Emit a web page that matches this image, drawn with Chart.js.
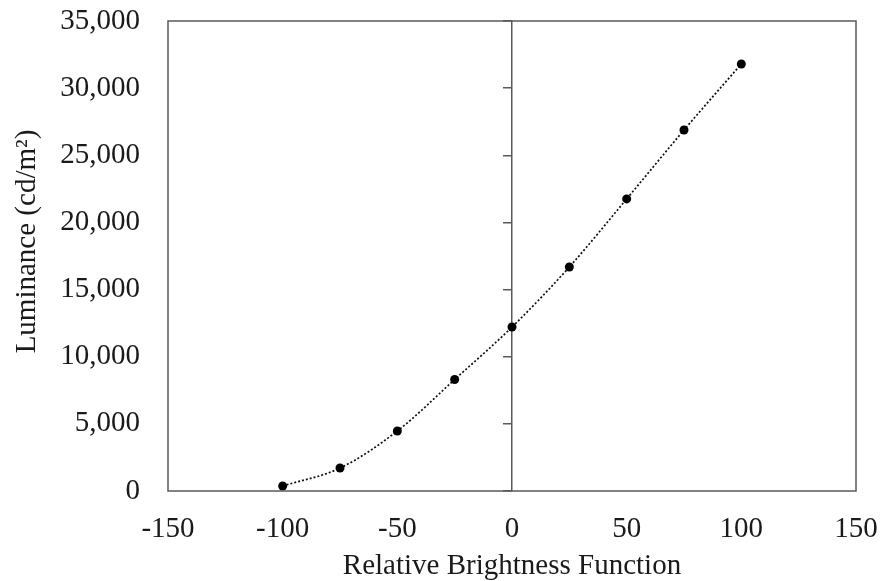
<!DOCTYPE html>
<html>
<head>
<meta charset="utf-8">
<script src="https://cdn.jsdelivr.net/npm/chart.js@4"></script>
<style>
  html, body { margin: 0; padding: 0; background: #fff; }
  #wrap { width: 881px; height: 581px; }
</style>
</head>
<body>
<div id="wrap"><canvas id="chart"></canvas></div>
<script>
// values
const brightness = [-100, -75, -50, -25, 0, 25, 50, 75, 100];
const luminance = [370, 1710, 4470, 8300, 12210, 16680, 21750, 26880, 31800];
const xTicks = [-150, -100, -50, 0, 50, 100, 150];
const yTicks = [0, 5000, 10000, 15000, 20000, 25000, 30000, 35000];

const axisColor = '#595959';
const textColor = '#1a1a1a';
const serif = "'Liberation Serif', 'Times New Roman', serif";
const fontSize = 29;

// frame round the plot area
const frame = {
    id: 'frame',
    afterDraw(chart) {
        const a = chart.chartArea;
        const ctx = chart.ctx;
        ctx.save();
        ctx.strokeStyle = axisColor;
        ctx.lineWidth = 1.5;
        ctx.strokeRect(a.left, a.top, a.right - a.left, a.bottom - a.top);
        ctx.restore();
    }
};

const points = brightness.map((b, i) => ({ x: b, y: luminance[i] }));

const ctx = document.getElementById('chart').getContext('2d');
new Chart(ctx, {
    type: 'scatter',
    data: {
        datasets: [{
            data: points,
            showLine: true,
            borderColor: '#111',
            borderWidth: 1.7,
            borderDash: [2, 2],
            cubicInterpolationMode: 'monotone',
            pointRadius: 4.5,
            pointBackgroundColor: '#000',
            pointBorderColor: '#000',
            pointBorderWidth: 0,
            xAxisID: 'x',
            yAxisID: 'y'
        }]
    },
    options: {
        responsive: true,
        maintainAspectRatio: false,
        animation: false,
        layout: { padding: { top: 21, right: 25, bottom: 0, left: 0 } },
        plugins: { legend: { display: false }, tooltip: { enabled: false } },
        scales: {
            x: {
                type: 'linear',
                min: -150,
                max: 150,
                afterBuildTicks: (s) => { s.ticks = xTicks.map(v => ({ value: v })); },
                afterFit: (s) => { s.height = 90; s.paddingLeft = 0; s.paddingRight = 0; },
                grid: { display: false },
                border: { display: false },
                ticks: {
                    color: textColor,
                    font: { family: serif, size: fontSize },
                    padding: 13,
                    maxRotation: 0
                },
                title: {
                    display: true,
                    text: 'Relative Brightness Function',
                    color: textColor,
                    font: { family: serif, size: fontSize, lineHeight: 1 },
                    padding: { top: 0, bottom: 0 }
                }
            },
            y: {
                type: 'linear',
                min: 0,
                max: 35000,
                afterBuildTicks: (s) => { s.ticks = yTicks.map(v => ({ value: v })); },
                afterFit: (s) => { s.width = 168; s.paddingTop = 0; s.paddingBottom = 0; },
                grid: { display: false, drawTicks: false },
                border: { display: false },
                ticks: {
                    color: textColor,
                    font: { family: serif, size: fontSize },
                    padding: 28,
                    callback: (v) => v.toLocaleString('en-US')
                },
                title: {
                    display: true,
                    text: '    Luminance (cd/m²)',
                    color: textColor,
                    font: { family: serif, size: fontSize },
                    padding: { top: 10, bottom: 0 }
                }
            },
            y2: {
                type: 'linear',
                position: { x: 0 },
                min: 0,
                max: 35000,
                afterBuildTicks: (s) => { s.ticks = yTicks.map(v => ({ value: v })); },
                afterFit: (s) => { s.paddingTop = 0; s.paddingBottom = 0; },
                grid: {
                    drawOnChartArea: false,
                    drawTicks: true,
                    tickLength: 8,
                    color: axisColor,
                    lineWidth: 1.5
                },
                border: { display: true, color: axisColor, width: 1.5 },
                ticks: { display: false }
            }
        }
    },
    plugins: [frame]
});
</script>
</body>
</html>
